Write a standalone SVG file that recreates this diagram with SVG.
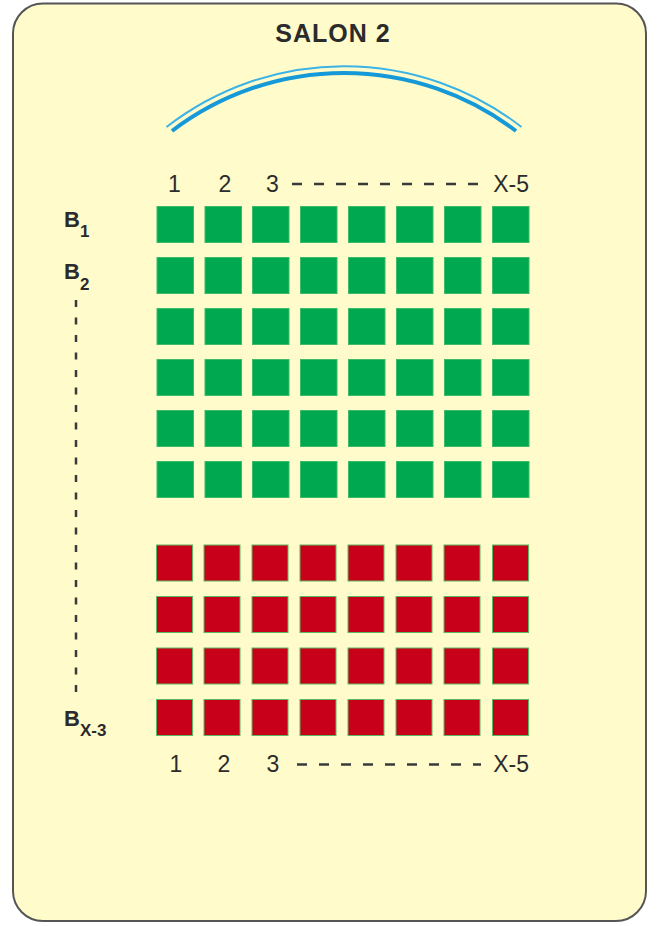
<svg xmlns="http://www.w3.org/2000/svg" width="663" height="926" viewBox="0 0 663 926">
  <defs>
    <style>
      .lbl { font-family: "Liberation Sans", Arial, sans-serif; fill: #2b2b2b; }
      .num { font-size: 23px; }
      .b { font-weight: bold; font-size: 22px; }
      .sub { font-weight: bold; font-size: 17px; }
      .g { fill: #00a84f; stroke: #3dbb6b; stroke-width: 1; }
      .r { fill: #c8001a; stroke: #5cb860; stroke-width: 1; }
      .dash { stroke: #3a3a3a; stroke-width: 2.5; fill: none; }
    </style>
  </defs>
  <rect x="0" y="0" width="663" height="926" fill="#ffffff"/>
  <rect x="13" y="3.5" width="633" height="917.5" rx="30" ry="30" fill="#fffbcb" stroke="#555555" stroke-width="2"/>

  <g id="title">
    <text class="lbl" x="333" y="41.5" text-anchor="middle" font-weight="bold" font-size="25" letter-spacing="1">SALON 2</text>
  </g>

  <g id="stage">
    <path d="M 166.5 127 A 289.5 289.5 0 0 1 521.5 127" fill="none" stroke="#3cb3e6" stroke-width="2"/>
    <path d="M 172 131 A 284 284 0 0 1 516 131" fill="none" stroke="#1599d8" stroke-width="4"/>
  </g>

  <g id="column-labels-top">
    <text class="lbl num" x="174.5" y="191.5" text-anchor="middle">1</text>
    <text class="lbl num" x="225" y="191.5" text-anchor="middle">2</text>
    <text class="lbl num" x="272.5" y="191.5" text-anchor="middle">3</text>
    <text class="lbl num" x="529" y="191.5" text-anchor="end">X-5</text>
  </g>
  <g id="column-labels-bottom">
    <text class="lbl num" x="176" y="771.5" text-anchor="middle">1</text>
    <text class="lbl num" x="224" y="771.5" text-anchor="middle">2</text>
    <text class="lbl num" x="273" y="771.5" text-anchor="middle">3</text>
    <text class="lbl num" x="529" y="771.5" text-anchor="end">X-5</text>
  </g>

  <g id="row-labels">
    <text class="lbl b" x="64" y="226.5">B<tspan class="sub" dy="10">1</tspan></text>
    <text class="lbl b" x="64" y="279">B<tspan class="sub" dy="10.5">2</tspan></text>
    <text class="lbl b" x="64" y="726">B<tspan class="sub" dy="9.5">X-3</tspan></text>
  </g>

  <g id="connectors">
    <line class="dash" x1="292" y1="184" x2="482" y2="184" stroke-dasharray="10 12"/>
    <line class="dash" x1="297" y1="764.5" x2="481" y2="764.5" stroke-dasharray="10 12"/>
    <line class="dash" x1="76" y1="300" x2="76" y2="695" stroke-width="3" stroke-dasharray="7 10.5"/>
  </g>

  <g id="green-seats">
    <g id="green-row-1">
      <rect class="g" x="157" y="206.5" width="36.5" height="36"/><rect class="g" x="205" y="206.5" width="36.5" height="36"/><rect class="g" x="252.5" y="206.5" width="36.5" height="36"/><rect class="g" x="300.5" y="206.5" width="36.5" height="36"/><rect class="g" x="348.5" y="206.5" width="36.5" height="36"/><rect class="g" x="396.5" y="206.5" width="36.5" height="36"/><rect class="g" x="444.5" y="206.5" width="36.5" height="36"/><rect class="g" x="492.5" y="206.5" width="36.5" height="36"/>
    </g>
    <g id="green-row-2">
      <rect class="g" x="157" y="257.5" width="36.5" height="36"/><rect class="g" x="205" y="257.5" width="36.5" height="36"/><rect class="g" x="252.5" y="257.5" width="36.5" height="36"/><rect class="g" x="300.5" y="257.5" width="36.5" height="36"/><rect class="g" x="348.5" y="257.5" width="36.5" height="36"/><rect class="g" x="396.5" y="257.5" width="36.5" height="36"/><rect class="g" x="444.5" y="257.5" width="36.5" height="36"/><rect class="g" x="492.5" y="257.5" width="36.5" height="36"/>
    </g>
    <g id="green-row-3">
      <rect class="g" x="157" y="308.5" width="36.5" height="36"/><rect class="g" x="205" y="308.5" width="36.5" height="36"/><rect class="g" x="252.5" y="308.5" width="36.5" height="36"/><rect class="g" x="300.5" y="308.5" width="36.5" height="36"/><rect class="g" x="348.5" y="308.5" width="36.5" height="36"/><rect class="g" x="396.5" y="308.5" width="36.5" height="36"/><rect class="g" x="444.5" y="308.5" width="36.5" height="36"/><rect class="g" x="492.5" y="308.5" width="36.5" height="36"/>
    </g>
    <g id="green-row-4">
      <rect class="g" x="157" y="359.5" width="36.5" height="36"/><rect class="g" x="205" y="359.5" width="36.5" height="36"/><rect class="g" x="252.5" y="359.5" width="36.5" height="36"/><rect class="g" x="300.5" y="359.5" width="36.5" height="36"/><rect class="g" x="348.5" y="359.5" width="36.5" height="36"/><rect class="g" x="396.5" y="359.5" width="36.5" height="36"/><rect class="g" x="444.5" y="359.5" width="36.5" height="36"/><rect class="g" x="492.5" y="359.5" width="36.5" height="36"/>
    </g>
    <g id="green-row-5">
      <rect class="g" x="157" y="410.5" width="36.5" height="36"/><rect class="g" x="205" y="410.5" width="36.5" height="36"/><rect class="g" x="252.5" y="410.5" width="36.5" height="36"/><rect class="g" x="300.5" y="410.5" width="36.5" height="36"/><rect class="g" x="348.5" y="410.5" width="36.5" height="36"/><rect class="g" x="396.5" y="410.5" width="36.5" height="36"/><rect class="g" x="444.5" y="410.5" width="36.5" height="36"/><rect class="g" x="492.5" y="410.5" width="36.5" height="36"/>
    </g>
    <g id="green-row-6">
      <rect class="g" x="157" y="461.5" width="36.5" height="36"/><rect class="g" x="205" y="461.5" width="36.5" height="36"/><rect class="g" x="252.5" y="461.5" width="36.5" height="36"/><rect class="g" x="300.5" y="461.5" width="36.5" height="36"/><rect class="g" x="348.5" y="461.5" width="36.5" height="36"/><rect class="g" x="396.5" y="461.5" width="36.5" height="36"/><rect class="g" x="444.5" y="461.5" width="36.5" height="36"/><rect class="g" x="492.5" y="461.5" width="36.5" height="36"/>
    </g>
  </g>

  <g id="red-seats">
    <g id="red-row-1">
      <rect class="r" x="156.5" y="545" width="36" height="36"/><rect class="r" x="204" y="545" width="36" height="36"/><rect class="r" x="252" y="545" width="36" height="36"/><rect class="r" x="300" y="545" width="36" height="36"/><rect class="r" x="348" y="545" width="36" height="36"/><rect class="r" x="396" y="545" width="36" height="36"/><rect class="r" x="444" y="545" width="36" height="36"/><rect class="r" x="492.5" y="545" width="36" height="36"/>
    </g>
    <g id="red-row-2">
      <rect class="r" x="156.5" y="596.5" width="36" height="36"/><rect class="r" x="204" y="596.5" width="36" height="36"/><rect class="r" x="252" y="596.5" width="36" height="36"/><rect class="r" x="300" y="596.5" width="36" height="36"/><rect class="r" x="348" y="596.5" width="36" height="36"/><rect class="r" x="396" y="596.5" width="36" height="36"/><rect class="r" x="444" y="596.5" width="36" height="36"/><rect class="r" x="492.5" y="596.5" width="36" height="36"/>
    </g>
    <g id="red-row-3">
      <rect class="r" x="156.5" y="648" width="36" height="36"/><rect class="r" x="204" y="648" width="36" height="36"/><rect class="r" x="252" y="648" width="36" height="36"/><rect class="r" x="300" y="648" width="36" height="36"/><rect class="r" x="348" y="648" width="36" height="36"/><rect class="r" x="396" y="648" width="36" height="36"/><rect class="r" x="444" y="648" width="36" height="36"/><rect class="r" x="492.5" y="648" width="36" height="36"/>
    </g>
    <g id="red-row-4">
      <rect class="r" x="156.5" y="699.5" width="36" height="36"/><rect class="r" x="204" y="699.5" width="36" height="36"/><rect class="r" x="252" y="699.5" width="36" height="36"/><rect class="r" x="300" y="699.5" width="36" height="36"/><rect class="r" x="348" y="699.5" width="36" height="36"/><rect class="r" x="396" y="699.5" width="36" height="36"/><rect class="r" x="444" y="699.5" width="36" height="36"/><rect class="r" x="492.5" y="699.5" width="36" height="36"/>
    </g>
  </g>
</svg>
